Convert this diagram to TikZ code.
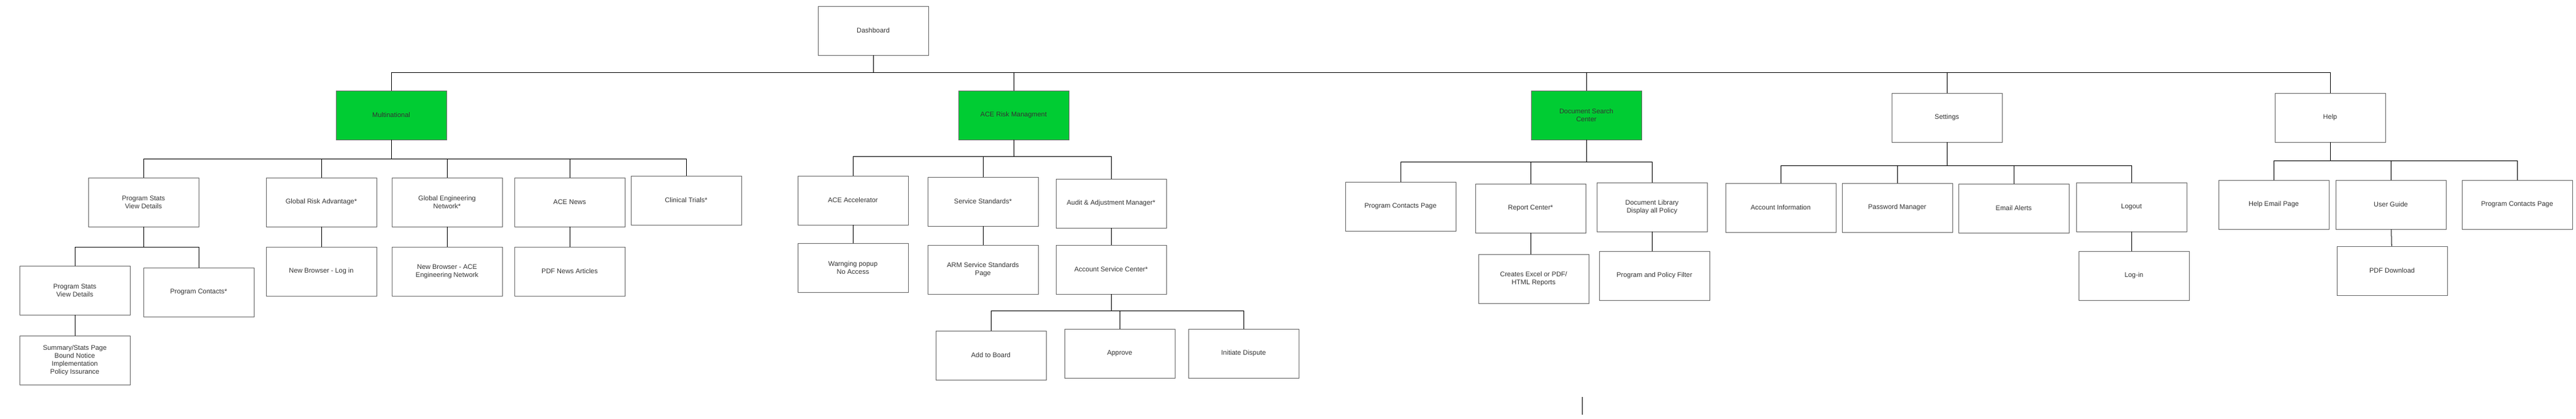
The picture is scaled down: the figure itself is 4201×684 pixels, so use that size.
\documentclass[tikz,border=0pt]{standalone}
\usepackage{fontspec}
\setmainfont{Liberation Sans}
\begin{document}
\begin{tikzpicture}[x=1pt,y=1pt,
  box/.style={draw=gray!80!black,line width=0.8pt,fill=white,minimum width=180pt,minimum height=80pt,align=center,inner sep=2pt,font=\fontsize{11}{13}\selectfont,text=black!80},
  green/.style={fill=green!75!black!95!cyan!0, fill={rgb,255:red,0;green,204;blue,51}},
  con/.style={draw=black,line width=1pt}]
\useasboundingbox (0,0) rectangle (4201,-684);
\newcommand\bx[5]{\node[box,#5] (#1) at ({#2+90},{-#3-40}) {#4};}
\newcommand\conn[3]{\draw[con] (#1.south) -- ++(0,-#3) -| (#2.north);}
\bx{dash}{1334}{10}{Dashboard}{}
\bx{multi}{548}{148}{Multinational}{green}
\bx{arm}{1563}{148}{ACE Risk Managment}{green}
\bx{doc}{2497}{148}{Document Search\\Center}{green}
\bx{set}{3085}{152}{Settings}{}
\bx{help}{3710}{152}{Help}{}
% Multinational
\bx{ps}{144}{290}{Program Stats\\View Details}{}
\bx{gra}{434}{290}{Global Risk Advantage*}{}
\bx{gen}{639}{290}{Global Engineering\\Network*}{}
\bx{news}{839}{290}{ACE News}{}
\bx{clin}{1029}{287}{Clinical Trials*}{}
\bx{ps2}{32}{434}{Program Stats\\View Details}{}
\bx{pc}{234}{437}{Program Contacts*}{}
\bx{sum}{32}{548}{Summary/Stats Page\\Bound Notice\\Implementation\\Policy Issurance}{}
\bx{nbl}{434}{403}{New Browser - Log in}{}
\bx{nba}{639}{403}{New Browser - ACE\\Engineering Network}{}
\bx{pdfn}{839}{403}{PDF News Articles}{}
% ACE Risk
\bx{acc}{1301}{287}{ACE Accelerator}{}
\bx{ss}{1513}{289}{Service Standards*}{}
\bx{aud}{1722}{292}{Audit \& Adjustment Manager*}{}
\bx{warn}{1301}{397}{Warnging popup\\No Access}{}
\bx{arms}{1513}{400}{ARM Service Standards\\Page}{}
\bx{asc}{1722}{400}{Account Service Center*}{}
\bx{add}{1526}{540}{Add to Board}{}
\bx{appr}{1736}{537}{Approve}{}
\bx{disp}{1938}{537}{Initiate Dispute}{}
% Doc search
\bx{pcp}{2194}{297}{Program Contacts Page}{}
\bx{rep}{2406}{300}{Report Center*}{}
\bx{lib}{2604}{298}{Document Library\\Display all Policy}{}
\bx{xls}{2411}{415}{Creates Excel or PDF/\\HTML Reports}{}
\bx{filt}{2608}{410}{Program and Policy Filter}{}
% Settings
\bx{acct}{2814}{299}{Account Information}{}
\bx{pw}{3004}{299}{Password Manager}{}
\bx{mail}{3194}{300}{Email Alerts}{}
\bx{out}{3386}{298}{Logout}{}
\bx{login}{3390}{410}{Log-in}{}
% Help
\bx{hem}{3618}{294}{Help Email Page}{}
\bx{ug}{3809}{294}{User Guide}{}
\bx{hpc}{4015}{294}{Program Contacts Page}{}
\bx{pdfd}{3811}{402}{PDF Download}{}
% connectors
\foreach \c in {multi,arm,doc,set,help} {\conn{dash}{\c}{28}}
\foreach \c in {ps,gra,gen,news,clin} {\conn{multi}{\c}{31}}
\foreach \c in {ps2,pc} {\conn{ps}{\c}{33}}
\draw[con] (ps2) -- (sum);
\draw[con] (gra) -- (nbl);
\draw[con] (gen) -- (nba);
\draw[con] (news) -- (pdfn);
\foreach \c in {acc,ss,aud} {\conn{arm}{\c}{27}}
\draw[con] (acc) -- (warn);
\draw[con] (ss) -- (arms);
\draw[con] (aud) -- (asc);
\foreach \c in {add,appr,disp} {\conn{asc}{\c}{27}}
\foreach \c in {pcp,rep,lib} {\conn{doc}{\c}{36}}
\draw[con] (rep.south) -- (rep.south |- xls.north);
\draw[con] (lib.south) -- (lib.south |- filt.north);
\foreach \c in {acct,pw,mail,out} {\conn{set}{\c}{38}}
\draw[con] (out.south) -- (out.south |- login.north);
\foreach \c in {hem,ug,hpc} {\conn{help}{\c}{30}}
\draw[con] (ug) -- (pdfd);
\coordinate (s1) at (2580,-648);
\coordinate (s2) at (2580,-677);
\draw[con] (s1) -- (s2);
\end{tikzpicture}
\end{document}
